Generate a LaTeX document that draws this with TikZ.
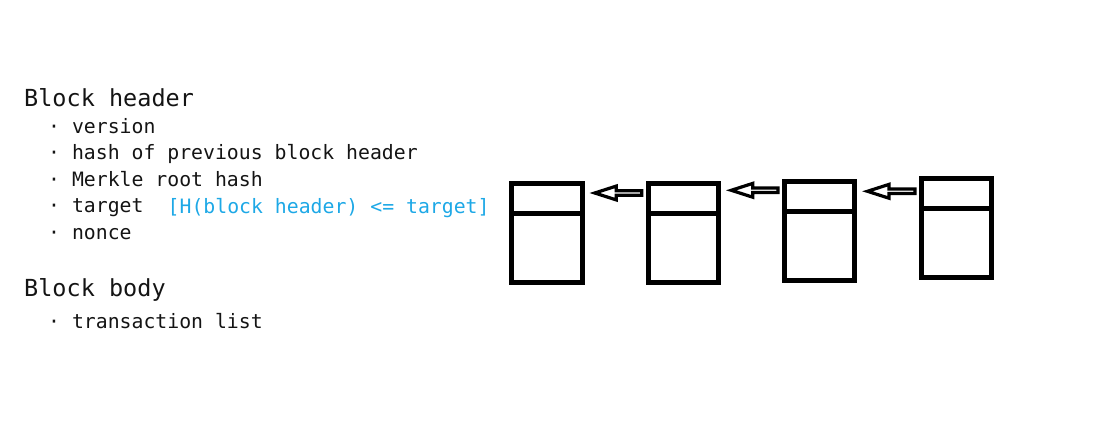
\documentclass[tikz,border=0pt]{standalone}
\usepackage{fontspec}
\setmonofont{DejaVu Sans Mono}
\usetikzlibrary{calc,positioning}
\definecolor{hintblue}{HTML}{1DA8E6}
\definecolor{ink}{HTML}{141414}
\begin{document}
\begin{tikzpicture}[x=1pt, y=-1pt, line join=miter,
  font=\ttfamily\fontsize{19.8}{24}\selectfont,
  item/.style={anchor=base west, inner sep=0pt, text=ink},
  head/.style={item, font=\ttfamily\fontsize{23.5}{28}\selectfont},
  blk/.style={draw, line width=5pt, minimum width=70.5pt, minimum height=99pt, inner sep=0pt, outer sep=0pt},
  link/.style={line width=3.2pt, to path={
    ($(\tikztostart)+(-6.5,-2.3)$) -- ($(\tikztotarget)+(34,-2.3)$) -- ($(\tikztotarget)+(34,-6.9)$)
    -- ($(\tikztotarget)+(12.5,0)$) -- ($(\tikztotarget)+(34,6.9)$) -- ($(\tikztotarget)+(34,2.3)$)
    -- ($(\tikztostart)+(-6.5,2.3)$) -- cycle}}]
\useasboundingbox (0,0) rectangle (1095,435);
% fields
\node[head] (hdr) at (24,106.7) {Block header};
\foreach \t [count=\i] in {version, hash of previous block header, Merkle root hash, target, nonce}
  \node[item] (f\i) at (48,106.5+26.6*\i) {· \t};
\node[item, text=hintblue] (cond) at (167.5,213.3) {[H(block header) <= target]};
\node[head] (bdy) at (24,296.7) {Block body};
\node[item] (tx) at (48,328.3) {· transaction list};
% chain
\foreach \n/\x/\y in {1/547/233, 2/683.5/232.8, 3/819.7/231.3, 4/956.7/228.5}{
  \node[blk] (b\n) at (\x,\y) {};
  \draw[line width=5pt] ([yshift=-30pt]b\n.north west) -- ([yshift=-30pt]b\n.north east);
}
\foreach \n/\m/\d in {1/2/9.5, 2/3/7, 3/4/9.5}{
  \path (b\n.north east) ++(0,\d) coordinate (a\n);
  \draw[link] (a\n -| b\m.west) to (a\n);
}
\end{tikzpicture}
\end{document}
